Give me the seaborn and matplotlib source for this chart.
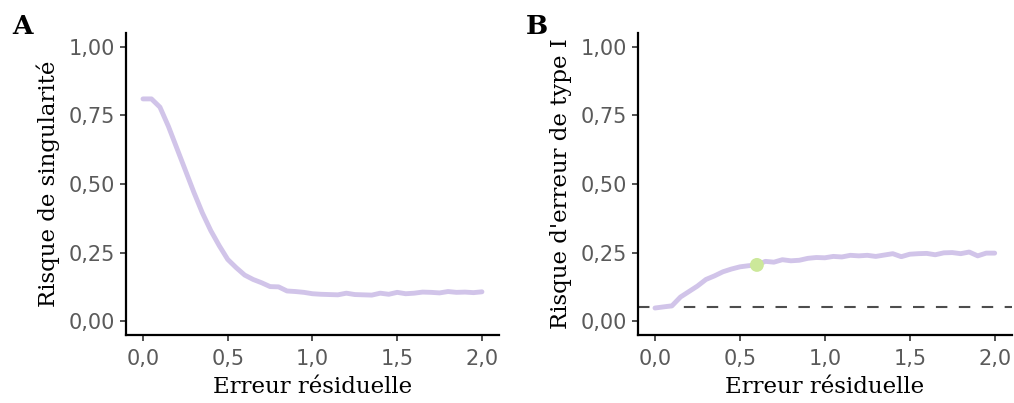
import numpy as np
import pandas as pd
import matplotlib
matplotlib.use("Agg")
import matplotlib.pyplot as plt
import seaborn as sns

# residual error grid shared by both panels
erreur = [0.00, 0.05, 0.10, 0.15, 0.20, 0.25, 0.30, 0.35, 0.40, 0.45,
          0.50, 0.55, 0.60, 0.65, 0.70, 0.75, 0.80, 0.85, 0.90, 0.95,
          1.00, 1.05, 1.10, 1.15, 1.20, 1.25, 1.30, 1.35, 1.40, 1.45,
          1.50, 1.55, 1.60, 1.65, 1.70, 1.75, 1.80, 1.85, 1.90, 1.95, 2.00]

risque_singularite = [0.810, 0.810, 0.780, 0.710, 0.630, 0.550, 0.470, 0.395, 0.330, 0.275,
                      0.225, 0.195, 0.168, 0.152, 0.140, 0.126, 0.125, 0.110, 0.108, 0.105,
                      0.100, 0.098, 0.097, 0.096, 0.102, 0.097, 0.096, 0.095, 0.102, 0.098,
                      0.105, 0.100, 0.102, 0.106, 0.105, 0.103, 0.108, 0.105, 0.106, 0.104, 0.107]

risque_type1 = [0.048, 0.052, 0.056, 0.088, 0.108, 0.128, 0.152, 0.165, 0.180, 0.190,
                0.198, 0.202, 0.205, 0.218, 0.215, 0.224, 0.220, 0.222, 0.229, 0.232,
                0.231, 0.236, 0.234, 0.240, 0.238, 0.240, 0.236, 0.241, 0.246, 0.235,
                0.244, 0.246, 0.247, 0.242, 0.249, 0.250, 0.246, 0.252, 0.238, 0.248, 0.248]

alpha_nominal = 0.05
point_x = [0.6]
point_y = [0.205]

df = pd.DataFrame({"erreur": erreur, "sing": risque_singularite, "type1": risque_type1})
pt = pd.DataFrame({"x": point_x, "y": point_y})

sns.set_style("ticks")
plt.rcParams["font.family"] = ["DejaVu Serif"]

line_col = "#D1C4E9"
tick_col = "#5A5A5A"

fig = plt.figure(figsize=(10.14, 4.03), dpi=100)
ax1 = fig.add_axes([0.1243, 0.169, 0.3677, 0.749])
ax2 = fig.add_axes([0.6292, 0.169, 0.3685, 0.749])

sns.lineplot(data=df, x="erreur", y="sing", ax=ax1, color=line_col, linewidth=3.5)
ax2.axhline(alpha_nominal, color="#4D4D4D", linestyle=(0, (5.5, 5.5)), linewidth=1.5, zorder=1)
sns.lineplot(data=df, x="erreur", y="type1", ax=ax2, color=line_col, linewidth=3.5, zorder=3)
sns.scatterplot(data=pt, x="x", y="y", ax=ax2, color="#CCE89A", s=100, edgecolor="none", zorder=5)

ylabels = ["Risque de singularité", "Risque d'erreur de type I"]
for ax, lab in zip([ax1, ax2], ylabels):
    ax.set_xlim(-0.1, 2.1)
    ax.set_ylim(-0.05, 1.05)
    ax.set_xticks([0, 0.5, 1, 1.5, 2])
    ax.set_xticklabels(["0,0", "0,5", "1,0", "1,5", "2,0"])
    ax.set_yticks([0, 0.25, 0.5, 0.75, 1])
    ax.set_yticklabels(["0,00", "0,25", "0,50", "0,75", "1,00"])
    for t in ax.get_xticklabels() + ax.get_yticklabels():
        t.set_family("DejaVu Sans")
        t.set_fontsize(15)
        t.set_color(tick_col)
    ax.tick_params(axis="x", length=4, width=1.2, color="#333333", pad=6)
    ax.tick_params(axis="y", length=4, width=1.2, color="#333333", pad=4)
    ax.set_xlabel("Erreur résiduelle", fontsize=16.5, color="black", labelpad=5)
    ax.set_ylabel(lab, fontsize=16.5, color="black", labelpad=6)
    for s in ["left", "bottom"]:
        ax.spines[s].set_linewidth(1.6)
        ax.spines[s].set_color("black")
    sns.despine(ax=ax)

fig.text(0.012, 0.915, "A", fontsize=19, fontweight="bold", family="DejaVu Serif", color="black")
fig.text(0.519, 0.915, "B", fontsize=19, fontweight="bold", family="DejaVu Serif", color="black")

fig.savefig("out.png", dpi=100)
